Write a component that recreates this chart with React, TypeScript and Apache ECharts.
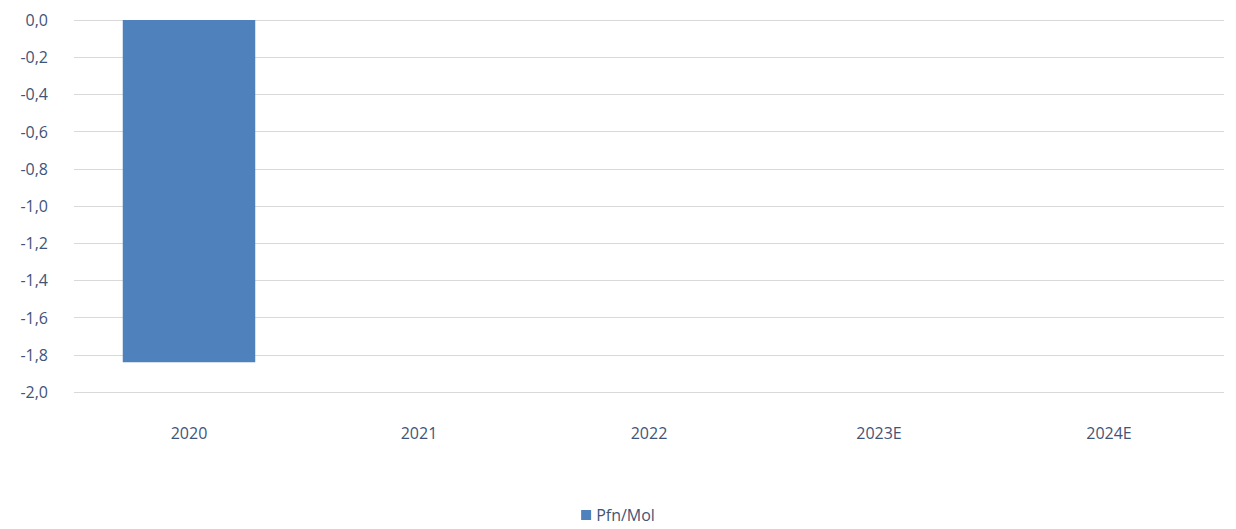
import React, { useEffect, useRef } from "react";
import * as echarts from "echarts";

const categories = ["2020", "2021", "2022", "2023E", "2024E"];
const pfnMol = [-1.84, null, null, null, null];
const seriesName = "Pfn/Mol";

export default function App() {
  const ref = useRef<HTMLDivElement>(null);
  useEffect(() => {
    const chart = echarts.init(ref.current!, null, { renderer: "svg" });
    const textColor = "#3F5478";
    const font = "Open Sans";
    chart.setOption({
      animation: false,
      grid: { left: 74, right: 12, top: 20, bottom: 137 },
      legend: {
        bottom: 1,
        left: "center",
        itemWidth: 10,
        itemHeight: 10,
        icon: "rect",
        itemGap: 6,
        textStyle: { color: textColor, fontFamily: font, fontSize: 16 },
        data: [seriesName],
      },
      xAxis: {
        type: "category",
        data: categories,
        axisLine: { show: false },
        axisTick: { show: false },
        axisLabel: { color: textColor, fontFamily: font, fontSize: 16, margin: 33 },
      },
      yAxis: {
        type: "value",
        min: -2,
        max: 0,
        interval: 0.2,
        axisLine: { show: false },
        axisTick: { show: false },
        splitLine: { lineStyle: { color: "#D9D9D9", width: 1 } },
        axisLabel: {
          color: textColor,
          fontFamily: font,
          fontSize: 16,
          margin: 26,
          formatter: (v: number) => v.toFixed(1).replace(".", ","),
        },
      },
      series: [
        {
          name: seriesName,
          type: "bar",
          data: pfnMol,
          barWidth: "57.6%",
          itemStyle: { color: "#4F81BD" },
        },
      ],
    });
    return () => chart.dispose();
  }, []);
  return <div ref={ref} style={{ width: 1236, height: 529, position: "absolute", left: 0, top: 0 }} />;
}
